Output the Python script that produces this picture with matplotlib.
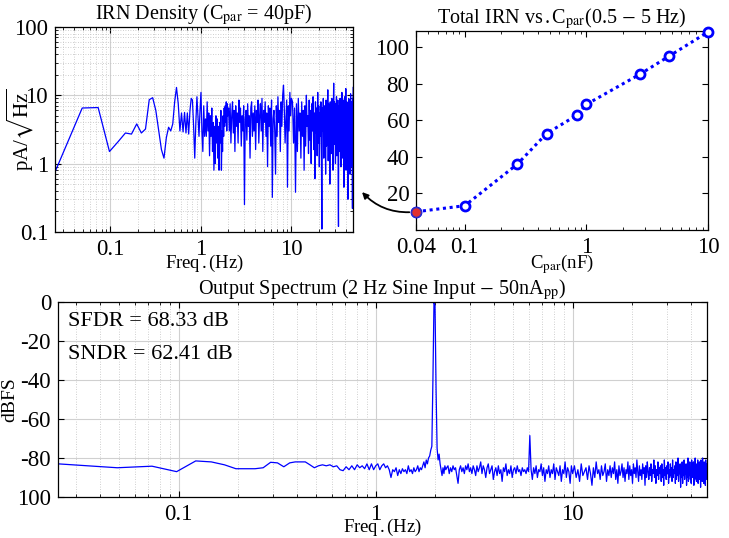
import numpy as np
import matplotlib
matplotlib.use("Agg")
import matplotlib.pyplot as plt
from matplotlib.ticker import NullFormatter

plt.rcParams["font.family"] = ["Liberation Serif", "DejaVu Serif"]
plt.rcParams["mathtext.fontset"] = "stix"

DF = 100.0 / 4096  # FFT bin spacing (Hz)

# --- IRN density (Cpar = 40 pF), pA/sqrt(Hz) ---
irn_low = [0.75, 6.5, 6.6, 1.5, 2.1, 2.8, 2.7, 3.8, 2.8, 3.2,
           8.6, 9.2, 6.0, 3.0, 1.6, 1.2, 2.4, 3.4, 3.0, 3.8,
           8.0, 13.0, 7.5, 3.0, 5.5, 2.9, 5.6, 2.8, 5.5, 2.7,
           6.0, 9.0, 8.5, 3.5, 1.2, 4.0, 9.5, 5.0, 2.5, 6.0, 11.0,
           3.0, 1.5, 7.0, 2.5, 4.5, 2.5, 8.0, 3.0, 5.5, 1.3,
           5.0, 2.5, 6.5, 1.5, 4.0, 0.8, 3.5, 1.0, 5.0, 2.0,
           4.5, 1.2, 3.5, 0.8, 4.0, 2.0, 6.0, 0.8, 3.0, 1.5,
           5.0, 2.5, 6.5, 3.5, 7.0, 4.0, 8.0, 3.0, 7.5, 5.0]
irn_mid = [6.5, 3.0, 7.5, 2.0, 5.0, 8.0, 2.8, 6.0, 1.5, 7.0, 3.5, 5.5, 2.0, 8.5, 4.0, 6.5, 1.8, 5.0, 3.0, 7.0,
           0.25, 4.5, 6.0, 2.2, 7.5, 3.5, 5.0, 1.2, 6.5, 8.0, 2.5, 5.5, 3.0, 7.0, 1.6, 6.0, 4.0, 8.5, 2.0, 5.0,
           7.5, 3.0, 9.0, 1.5, 6.0, 4.0, 8.0, 2.5, 5.5, 0.9, 7.0, 3.5, 6.5, 1.8, 8.5, 0.32, 4.5, 6.0, 3.0, 0.7,
           7.0, 2.5, 9.5, 4.0, 6.0, 1.5, 8.0, 3.5, 10.0, 14.0, 6.5, 2.0, 4.0, 8.5, 0.45, 7.0, 3.0, 11.0, 5.0, 9.0]
irn_high = [8.0, 2.0, 6.5, 0.38, 7.5, 1.5, 9.0, 3.0, 5.5, 1.2, 8.0, 2.5, 6.0, 0.8, 7.0, 1.8, 10.0, 3.5, 5.0, 1.4,
            8.5, 2.2, 6.0, 1.0, 7.5, 3.0, 9.5, 1.6, 5.5, 0.6, 8.0, 2.8, 6.5, 1.3, 11.0, 2.0, 7.0, 0.9, 5.5, 2.5,
            8.0, 1.5, 0.11, 6.5, 3.0, 9.0, 1.2, 7.0, 2.4, 5.0, 0.7, 8.5, 1.8, 6.0, 3.2, 12.0, 1.1, 7.5, 2.6, 5.5,
            0.5, 8.0, 2.0, 6.5, 1.4, 9.0, 3.0, 7.0, 0.8, 5.5, 15.0, 1.9, 8.0, 2.7, 6.0, 1.0, 7.5, 3.5, 9.5, 1.3,
            6.0, 2.2, 8.5, 0.6, 0.12, 7.0, 2.8, 5.5, 1.5, 9.0, 2.0, 6.5, 0.9, 8.0, 3.0, 11.0, 1.2, 7.0, 2.4, 5.0,
            1.7, 8.5, 0.45, 6.0, 3.0, 9.5, 1.3, 7.0, 2.2, 12.5, 0.8, 6.5, 2.6, 8.0, 1.5, 5.5, 3.2, 0.3, 7.5, 1.9,
            9.0, 1.1, 6.0, 2.8, 8.5, 0.7, 7.0, 2.0, 10.5, 1.4, 6.5, 3.0, 8.0, 0.9, 7.5, 2.3, 0.22, 9.0, 1.6, 13.0]

# --- Total IRN vs Cpar ---
cpar_nf = [0.04, 0.1, 0.27, 0.47, 0.83, 1.0, 2.75, 4.8, 10.0]
irn_total = [10.0, 13.3, 36.0, 52.8, 62.8, 68.8, 85.3, 95.3, 108.5]

# --- Output spectrum, dBFS ---
spec_low = [-83, -85, -84.2, -87, -81.5, -82, -83.5, -85.5, -85.5, -85.5,
            -85, -82.2, -82.5, -84.5, -82.5, -82, -82, -82, -83.5, -85,
            -84, -83.5, -84, -83.5, -84.5, -84, -86, -86.5, -84.5, -86,
            -84, -86, -83.5, -85, -84, -85.5, -83, -86, -83, -86, -84,
            -83, -86, -84, -83, -85, -84, -86, -90, -86, -87,
            -85, -89, -86, -88, -85.5, -87, -86, -88, -84, -87,
            -86, -88, -85, -87, -86, -84, -87, -85, -86, -84,
            -82, -85, -81, -83, -80, -79, -76, -74, -40, 0,
            -2, -45, -75, -81, -78, -83, -86, -89, -85, -88,
            -84, -86, -85]
spec_mid = [-84, -88, -85, -87, -84, -86, -85, -89, -93, -86, -84, -87, -85, -88, -84, -86, -83, -87, -85, -88,
            -84, -86, -89, -84, -87, -85, -82, -88, -84, -86, -90, -85, -83, -88, -86, -84, -91, -87, -85, -89,
            -84, -88, -86, -92, -85, -87, -83, -89, -86, -88, -84, -90, -86, -85, -88, -84, -87, -86, -89, -85,
            -87, -86, -88, -85, -87, -68.5, -86, -91, -85, -88, -84, -90, -86, -87, -83, -89, -85, -92, -86, -88,
            -84, -90, -86, -88, -83, -91, -85, -87, -89, -84, -92, -86, -88, -82, -90, -85, -87, -93, -84, -88]
spec_high = [-84, -90, -86, -92, -83, -89, -87, -85, -91, -84, -88, -94, -85, -90, -82, -88, -86, -91, -84, -89,
             -87, -83, -92, -86, -89, -84, -90, -85, -88, -82, -91, -86, -93, -84, -89, -87, -83, -90, -85, -92,
             -86, -88, -82, -91, -84, -89, -86, -93, -83, -88, -85, -90, -81, -87, -92, -84, -89, -86, -91, -83,
             -88, -85, -94, -84, -90, -82, -87, -91, -85, -89, -83, -92, -86, -88, -81, -90, -84, -93, -86, -89,
             -82, -91, -85, -88, -84, -92, -83, -90, -86, -94, -81, -89, -85, -91, -84, -88, -82, -93, -86, -90,
             -83, -89, -85, -92, -81, -90, -86, -88, -84, -93, -82, -91, -85, -89, -80, -92, -86, -88, -83, -95,
             -85, -90, -82, -93, -84, -89, -81, -91, -86, -88, -83, -94, -85, -90, -80, -92, -84, -89, -82, -91,
             -86, -93, -81, -90, -84, -88, -82, -94, -85, -91, -80, -89, -86, -92, -83, -90, -81, -93, -85, -88,
             -82, -91, -84, -95, -81, -89, -86, -92, -80, -90, -85, -93, -82, -88, -84, -94, -81, -91, -83, -90]

F_MAX = 48.0
BLUE = "#0000ff"
MAJ_GRID = dict(color="#d0d0d0", linestyle="-", linewidth=0.8)
MIN_GRID = dict(color="#c0c0c0", linestyle=(0, (1, 2)), linewidth=0.6)


def _freq_axis(n_low, f_mid0, n_mid, n_high):
    f_low = np.arange(1, n_low + 1) * DF
    f_mid = np.geomspace(f_mid0, 10.0, n_mid + 1)[1:]
    f_high = np.linspace(10.0, F_MAX, n_high + 1)[1:]
    return np.concatenate([f_low, f_mid, f_high])


def _style(ax):
    ax.tick_params(which="both", direction="in", top=True, right=True,
                   labelsize=16.5, length=4, pad=5)
    ax.tick_params(which="minor", length=2)
    for s in ax.spines.values():
        s.set_linewidth(0.9)


fig = plt.figure(figsize=(7.29, 5.38), dpi=100)

# ---------------- IRN density ----------------
ax1 = fig.add_axes([0.0754, 0.569, 0.409, 0.381])
f1 = _freq_axis(len(irn_low), len(irn_low) * DF, len(irn_mid), len(irn_high))
ax1.plot(f1, np.concatenate([irn_low, irn_mid, irn_high]), color=BLUE, lw=0.9)
ax1.set_xscale("log")
ax1.set_yscale("log")
ax1.set_xlim(DF, F_MAX)
ax1.set_ylim(0.1, 100)
ax1.set_xticks([0.1, 1, 10], ["0.1", "1", "10"])
ax1.set_yticks([0.1, 1, 10, 100], ["0.1", "1", "10", "100"])
ax1.xaxis.set_minor_formatter(NullFormatter())
ax1.yaxis.set_minor_formatter(NullFormatter())
ax1.grid(True, which="major", **MAJ_GRID)
ax1.grid(True, which="minor", **MIN_GRID)
ax1.set_axisbelow(True)
_style(ax1)
ax1.set_title(r"IRN Density (C$_{\rm par}$ = 40pF)", fontsize=14.5, pad=3)
ax1.set_xlabel(r"Freq$\,$.$\,$(Hz)", fontsize=13.5, labelpad=-5)
ax1.set_ylabel(r"pA/$\sqrt{\rm Hz}$", fontsize=15, labelpad=-16)

# ---------------- Total IRN vs Cpar ----------------
ax2 = fig.add_axes([0.571, 0.5725, 0.4005, 0.370])
ax2.plot(cpar_nf, irn_total, color=BLUE, lw=2.2, linestyle=(0, (1, 1.2)),
         marker="o", markersize=6.5, markerfacecolor="white",
         markeredgecolor=BLUE, markeredgewidth=2, clip_on=False, zorder=3)
ax2.plot(cpar_nf[:1], irn_total[:1], "o", markersize=7, markerfacecolor="#e03030",
         markeredgecolor="#3030c0", markeredgewidth=1, clip_on=False, zorder=4)
ax2.set_xscale("log")
ax2.set_xlim(0.04, 10)
ax2.set_ylim(0, 109)
ax2.set_xticks([0.04, 0.1, 1, 10], ["0.04", "0.1", "1", "10"])
ax2.xaxis.set_minor_formatter(NullFormatter())
ax2.set_yticks([20, 40, 60, 80, 100])
_style(ax2)
ax2.set_title(r"Total IRN vs$\,$.$\,$C$_{\rm par}$(0.5 $-$ 5 Hz)", fontsize=14.5, pad=5)
ax2.set_xlabel(r"C$_{\rm par}$(nF)", fontsize=13.5, labelpad=-4)
ax2.annotate("", xy=(0.4966, 0.643), xycoords="figure fraction",
             xytext=(0.04, 10), textcoords="data",
             arrowprops=dict(arrowstyle="-|>", color="k", lw=1.3,
                             connectionstyle="arc3,rad=-0.25",
                             shrinkA=5, shrinkB=0, mutation_scale=9),
             annotation_clip=False)

# ---------------- Output spectrum ----------------
ax3 = fig.add_axes([0.0796, 0.0762, 0.890, 0.3625])
f3 = _freq_axis(len(spec_low), len(spec_low) * DF, len(spec_mid), len(spec_high))
ax3.plot(f3, np.concatenate([spec_low, spec_mid, spec_high]), color=BLUE, lw=0.9)
ax3.set_xscale("log")
ax3.set_xlim(DF, F_MAX)
ax3.set_ylim(-100, 0)
ax3.set_xticks([0.1, 1, 10], ["0.1", "1", "10"])
ax3.set_yticks([-100, -80, -60, -40, -20, 0], ["100", "-80", "-60", "-40", "-20", "0"])
ax3.xaxis.set_minor_formatter(NullFormatter())
ax3.xaxis.grid(True, which="major", **MAJ_GRID)
ax3.xaxis.grid(True, which="minor", **MIN_GRID)
ax3.yaxis.grid(True, which="major", **MAJ_GRID)
ax3.set_axisbelow(True)
_style(ax3)
ax3.set_title(r"Output Spectrum (2 Hz Sine Input $-$ 50nA$_{\rm pp}$)", fontsize=14.5, pad=3)
ax3.set_xlabel(r"Freq$\,$.$\,$(Hz)", fontsize=13.5, labelpad=-6)
ax3.set_ylabel("dBFS", fontsize=14, labelpad=-1)
ax3.text(0.015, 0.90, "SFDR = 68.33 dB", transform=ax3.transAxes, fontsize=16,
         va="center", ha="left")
ax3.text(0.015, 0.73, "SNDR = 62.41 dB", transform=ax3.transAxes, fontsize=16,
         va="center", ha="left")

fig.savefig("out.png", dpi=100)
